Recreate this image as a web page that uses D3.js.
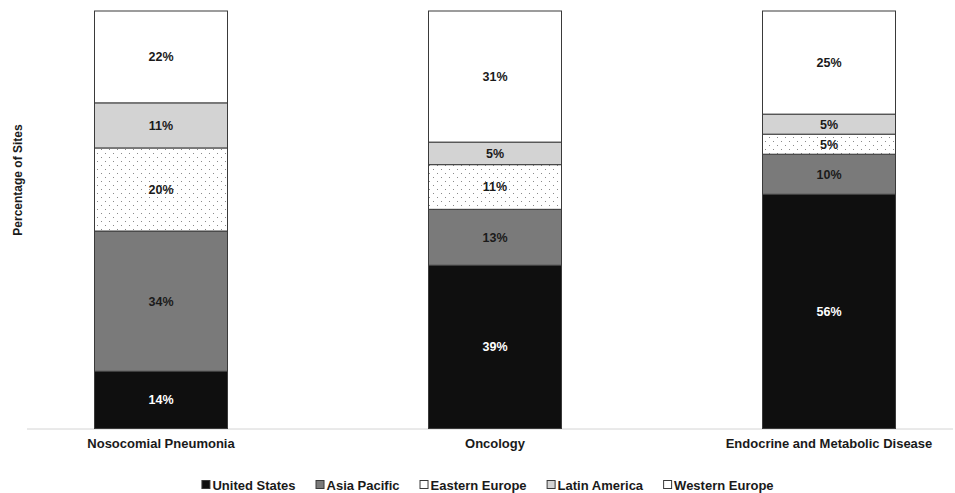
<!DOCTYPE html>
<html><head><meta charset="utf-8">
<script src="https://cdn.jsdelivr.net/npm/d3@7"></script>
<style>body{margin:0;background:#fff}svg{display:block;font-family:"Liberation Sans",Arial,sans-serif}</style>
</head><body><svg id="c" width="955" height="493"></svg>
<script>
const categories = ["Nosocomial Pneumonia", "Oncology", "Endocrine and Metabolic Disease"];
const seriesNames = ["United States", "Asia Pacific", "Eastern Europe", "Latin America", "Western Europe"];
const unitedStates = [13.7, 39.1, 56.1];
const asiaPacific = [33.6, 13.4, 9.6];
const easternEurope = [19.9, 10.7, 4.8];
const latinAmerica = [10.8, 5.4, 4.8];
const westernEurope = [22.0, 31.4, 24.7];
const yTicks = [0, 100];

const seriesValues = [unitedStates, asiaPacific, easternEurope, latinAmerica, westernEurope];
const fills = ["#0f0f0f", "#7a7a7a", "url(#dots)", "#d3d3d3", "#ffffff"];
const legendFills = ["#0f0f0f", "#7a7a7a", "#ffffff", "#d3d3d3", "#ffffff"];
const labelColors = ["#ffffff", "#1a1a1a", "#1a1a1a", "#1a1a1a", "#1a1a1a"];

const svg = d3.select("#c");
const defs = svg.append("defs");
const pat = defs.append("pattern").attr("id", "dots").attr("patternUnits", "userSpaceOnUse")
  .attr("width", 8).attr("height", 8);
pat.append("rect").attr("width", 8).attr("height", 8).attr("fill", "#fff");
pat.append("rect").attr("x", 1).attr("y", 1).attr("width", 1).attr("height", 1).attr("fill", "#8a8a8a");
pat.append("rect").attr("x", 5).attr("y", 5).attr("width", 1).attr("height", 1).attr("fill", "#8a8a8a");

const x = d3.scalePoint().domain(categories).range([161, 829]);
const y = d3.scaleLinear().domain([yTicks[0], yTicks[1]]).range([428.5, 11]);
const barW = 134;

const rows = categories.map((c, i) => {
  const o = { cat: c };
  seriesNames.forEach((s, j) => o[s] = seriesValues[j][i]);
  return o;
});
const stacked = d3.stack().keys(seriesNames)(rows);

// axis line
svg.append("line").attr("x1", 27).attr("x2", 953).attr("y1", 429).attr("y2", 429)
  .attr("stroke", "#d4d4d4").attr("stroke-width", 1);

const g = svg.append("g");
stacked.forEach((layer, j) => {
  layer.forEach((d, i) => {
    const cx = x(categories[i]);
    const y0 = y(d[0]), y1 = y(d[1]);
    g.append("rect").attr("x", cx - barW / 2 + 0.5).attr("y", y1).attr("width", barW - 1).attr("height", y0 - y1)
      .attr("fill", fills[j]).attr("stroke", "#3a3a3a").attr("stroke-width", 1);
    g.append("text").attr("x", cx).attr("y", (y0 + y1) / 2 + 4.5)
      .attr("text-anchor", "middle").attr("font-size", 12.5).attr("font-weight", "bold")
      .attr("fill", labelColors[j]).text(Math.round(seriesValues[j][i]) + "%");
  });
});

// category labels
categories.forEach(c => {
  svg.append("text").attr("x", x(c)).attr("y", 448).attr("text-anchor", "middle")
    .attr("font-size", 13).attr("font-weight", "bold").attr("fill", "#1a1a1a").text(c);
});

// y axis title
svg.append("text").attr("transform", "translate(22,180) rotate(-90)").attr("text-anchor", "middle")
  .attr("font-size", 12).attr("font-weight", "bold").attr("fill", "#1a1a1a").text("Percentage of Sites");

// legend
const leg = svg.append("g");
let lx = 0;
const gap = 20;
seriesNames.forEach((s, j) => {
  const it = leg.append("g").attr("transform", `translate(${lx},0)`);
  it.append("rect").attr("x", 0.5).attr("y", -9.5).attr("width", 8).attr("height", 8)
    .attr("fill", legendFills[j]).attr("stroke", "#3a3a3a").attr("stroke-width", 1);
  const t = it.append("text").attr("x", 11).attr("y", 0).attr("font-size", 13).attr("font-weight", "bold")
    .attr("fill", "#1a1a1a").text(s);
  lx += 11 + t.node().getComputedTextLength() + gap;
});
const totalW = lx - gap;
leg.attr("transform", `translate(${(203 + 772) / 2 - totalW / 2},490)`);
</script></body></html>
